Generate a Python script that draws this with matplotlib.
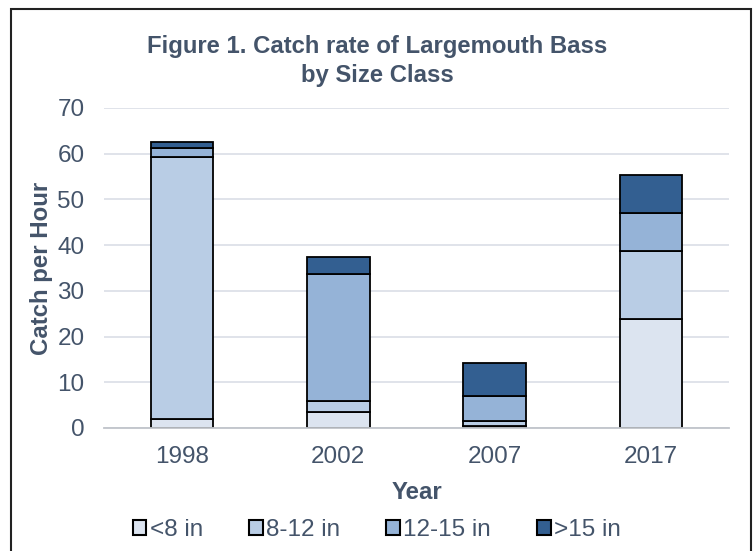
import matplotlib
matplotlib.use("Agg")
import matplotlib.pyplot as plt
from matplotlib.patches import Rectangle
import numpy as np

years = ["1998", "2002", "2007", "2017"]
classes = ["<8 in", "8-12 in", "12-15 in", ">15 in"]
lt8 = [2.0, 3.5, 0.5, 23.9]
s8_12 = [57.2, 2.4, 1.0, 14.9]
s12_15 = [2.0, 27.7, 5.4, 8.2]
gt15 = [1.4, 3.7, 7.3, 8.3]
yticks = [0, 10, 20, 30, 40, 50, 60, 70]

colors = ["#DCE4F0", "#B9CDE5", "#95B3D7", "#335F91"]
text_c = "#44546A"

plt.rcParams['font.family'] = ['Liberation Sans', 'DejaVu Sans']

fig = plt.figure(figsize=(7.54, 5.51), dpi=100)
ax = fig.add_axes([104/754, 1-428/551, (729-104)/754, (428-108)/551])

x = np.arange(len(years))
bottom = np.zeros(len(years))
for vals, col, lab in zip([lt8, s8_12, s12_15, gt15], colors, classes):
    ax.bar(x, vals, width=0.40, bottom=bottom, color=col, edgecolor="black",
           linewidth=1.3, label=lab, zorder=3)
    bottom += np.array(vals)

ax.set_xlim(-0.5, 3.5)
ax.set_ylim(0, 70)
ax.set_yticks(yticks)
ax.set_xticks(x)
ax.set_xticklabels(years)
ax.grid(axis='y', color="#DDE1E8", linewidth=1.3, zorder=0)
for s in ["top", "right", "left"]:
    ax.spines[s].set_visible(False)
ax.spines["bottom"].set_color("#C0C4CA")
ax.spines["bottom"].set_linewidth(1.3)
ax.spines["bottom"].set_zorder(4)
ax.tick_params(axis='both', length=0, labelsize=17.5, colors=text_c)
ax.tick_params(axis='x', pad=13)
ax.tick_params(axis='y', pad=14)

ax.set_ylabel("Catch per Hour", fontsize=17.3, fontweight='bold', color=text_c, labelpad=3)
ax.set_xlabel("Year", fontsize=17.3, fontweight='bold', color=text_c, labelpad=9)

fig.text(377/754, 1-61/551, "Figure 1. Catch rate of Largemouth Bass\nby Size Class",
         ha='center', va='center', fontsize=17.2, fontweight='bold', color=text_c,
         linespacing=1.3)

leg = fig.legend(loc='center', bbox_to_anchor=(377/754, 1-530/551), ncol=4,
                 frameon=False, fontsize=17.5, handlelength=0.55, handleheight=0.55,
                 handletextpad=0.15, columnspacing=1.9, labelcolor=text_c)
for h in leg.legend_handles:
    h.set_linewidth(1.5)

fig.patches.append(Rectangle((11/754, -0.1), (751-11)/754, 1-9/551+0.1,
                             transform=fig.transFigure, fill=False,
                             edgecolor="#222222", linewidth=1.5))

fig.savefig("out.png", dpi=100)
